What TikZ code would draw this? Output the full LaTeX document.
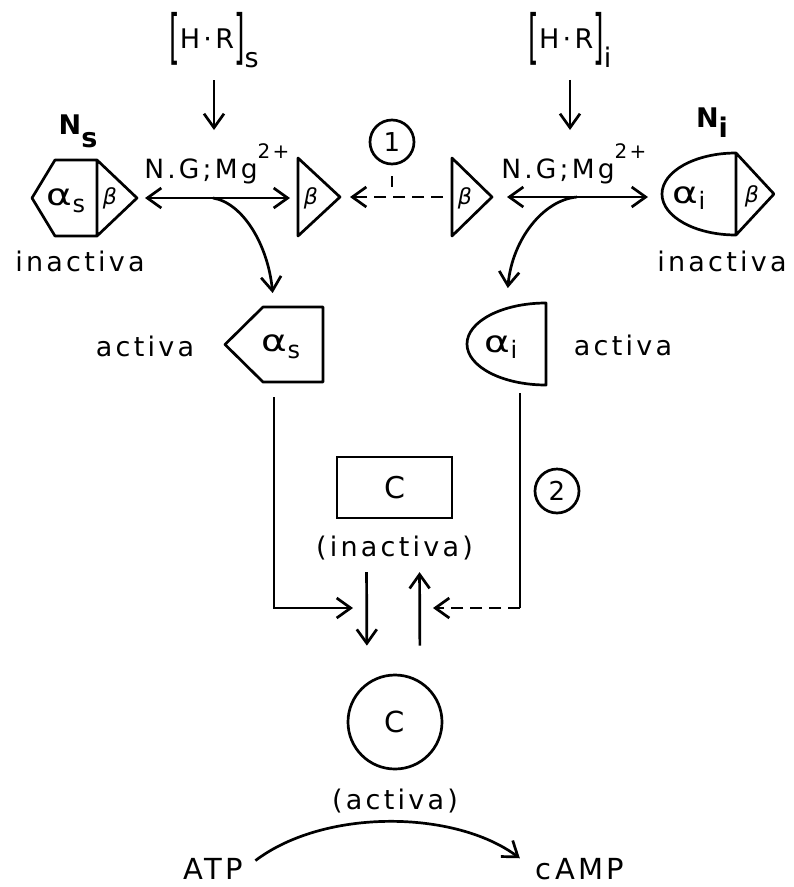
\documentclass[tikz,border=0pt]{standalone}
\usepackage{fontspec}
\newfontfamily\labfont{DejaVu Sans}[LetterSpace=12]
\usetikzlibrary{arrows.meta, positioning}

\newcommand\tallbr[1]{\raisebox{-0.33em}{\scalebox{1}[2.2]{#1}}}
\newcommand\alsub[1]{{\fontsize{30}{30}\selectfont\scalebox{1.3}[1]{α}}\raisebox{-0.25em}{\fontsize{24}{24}\selectfont #1}}

\begin{document}
\begin{tikzpicture}[
  x=1pt, y=-1pt,
  line width=2.7pt,
  lab/.style={font=\labfont\fontsize{27}{30}\selectfont, inner sep=0pt},
  ng/.style={font=\labfont\fontsize{26.5}{28}\selectfont, inner sep=0pt, anchor=base west},
  hold/.style={inner sep=0pt, outer sep=0pt},
  shp/.style={line join=round},
  gk/.style={font=\labfont\itshape\fontsize{22}{24}\selectfont, inner sep=0pt},
  numc/.style={circle, draw, minimum size=44pt, inner sep=0pt, font=\labfont\fontsize{26}{28}\selectfont},
  arr/.style={-{Straight Barb[length=14pt, width=20pt]}},
  darr/.style={{Straight Barb[length=14pt, width=20pt]}-{Straight Barb[length=14pt, width=20pt]}},
  dsh/.style={dash pattern=on 12pt off 7pt}
]
\useasboundingbox (0,0) rectangle (794,887);

\node[lab] (hrs) at (214,40) {\tallbr{[}H·R\tallbr{]}\raisebox{-0.7em}{s}};
\node[lab] (hri) at (570,40) {\tallbr{[}H·R\tallbr{]}\raisebox{-0.7em}{i}};
\coordinate (gs) at (214,130);
\coordinate (gi) at (570,130);

\node[ng] (ngs) at (143,178) {N.G;Mg\raisebox{20pt}{\fontsize{20}{22}\selectfont 2+}};
\node[ng] (ngi) at (500,178) {N.G;Mg\raisebox{20pt}{\fontsize{20}{22}\selectfont 2+}};

\node[lab, font=\labfont\bfseries\fontsize{27}{30}\selectfont] (nsl) at (78,131) {N\raisebox{-0.48em}{s}};
\node[lab, font=\labfont\bfseries\fontsize{27}{30}\selectfont] (nil) at (712,123) {N\raisebox{-0.37em}{i}};

\node[hold, minimum width=105pt, minimum height=76pt] (ns) at (84.5,198) {};
\draw[shp] (ns.west) -- ([xshift=23pt]ns.north west) -- ([xshift=65pt]ns.north west) -- (ns.east)
  -- ([xshift=65pt]ns.south west) -- ([xshift=23pt]ns.south west) -- cycle
  ([xshift=65pt]ns.north west) -- ([xshift=65pt]ns.south west);
\node[lab] (nsa) at (66,201) {\alsub{s}};
\node[gk] (nsb) at (110,198) {β};
\node[lab] (nsx) at (80,261) {inactiva};

\node[hold, minimum width=42pt, minimum height=78pt] (bs) at (319,197) {};
\draw[shp] (bs.north west) -- (bs.east) -- (bs.south west) -- cycle;
\node[gk] (bst) at (311,198) {β};

\node[hold, minimum width=40pt, minimum height=78pt] (bi) at (472,197) {};
\draw[shp] (bi.north west) -- (bi.east) -- (bi.south west) -- cycle;
\node[gk] (bit) at (465,198) {β};

\node[numc] (c1) at (392,142) {1};

\node[hold, minimum width=112pt, minimum height=82pt] (ni) at (718,194) {};
\draw[shp] ([xshift=-38pt]ni.north east) arc[start angle=90, end angle=270, x radius=74pt, y radius=41pt]
  -- (ni.east) -- cycle
  ([xshift=-38pt]ni.north east) -- ([xshift=-38pt]ni.south east);
\node[lab] (nia) at (689,198) {\alsub{i}};
\node[gk] (nib) at (752,196) {β};
\node[lab] (nix) at (722,261) {inactiva};

\node[hold, minimum width=98pt, minimum height=75pt] (as) at (274,344.5) {};
\draw[shp] (as.west) -- ([xshift=38pt]as.north west) -- (as.north east) -- (as.south east)
  -- ([xshift=38pt]as.south west) -- cycle;
\node[lab] (ast) at (281,347) {\alsub{s}};
\node[lab] (asl) at (145,346) {activa};

\node[hold, minimum width=79pt, minimum height=82pt] (ai) at (506.5,344) {};
\draw[shp] (ai.north east) arc[start angle=90, end angle=270, x radius=79pt, y radius=41pt] -- cycle;
\node[lab] (ait) at (501,347) {\alsub{i}};
\node[lab] (ail) at (623,345) {activa};

\node[draw, lab, minimum width=115pt, minimum height=61pt, font=\labfont\fontsize{30}{32}\selectfont] (ci) at (394.5,487.5) {C};
\node[lab, below=15pt of ci] (cil) {(inactiva)};
\node[numc] (c2) at (557,491) {2};

\node[draw, circle, lab, minimum size=94pt, font=\labfont\fontsize{29}{31}\selectfont] (ca) at (395,722) {C};
\node[lab, below=17pt of ca] (cal) {(activa)};

\node[lab, font=\labfont\fontsize{29}{32}\selectfont] (atp) at (213,869) {ATP};
\node[lab, font=\labfont\fontsize{29}{32}\selectfont] (camp) at (580,869) {cAMP};

\coordinate (ms) at (213,198);
\coordinate (mi) at (577,197);
\coordinate (jl) at (353,608);
\coordinate (kr) at (520,608);
\coordinate (jr) at (433,608);

\draw[arr, shorten <=11pt] (hrs) -- (gs);
\draw[arr, shorten <=11pt] (hri) -- (gi);
\draw[darr, shorten <=8pt, shorten >=8pt] (ns.east) -- (ns.east -| bs.west);
\draw[darr, shorten <=15pt, shorten >=14pt] (bi.east) -- (bi.east -| ni.west);
\draw[arr, dsh, shorten <=9pt, shorten >=10pt] (bi.west) -- (bs.east);
\draw[shorten <=11pt, shorten >=10pt] (c1.south) -- (c1.south |- bs.east);
\draw[arr, shorten >=14pt] (ms) .. controls (243,203) and (268,245) .. (as.north);
\draw[arr, shorten >=15pt] (mi) .. controls (543,200) and (512,240) .. (ai.north);
\draw[arr, shorten <=15pt] (as) |- (jl);
\draw[shorten <=8pt] (ai.south -| kr) -- (kr);
\draw[arr, dsh] (kr) -- (jr);
\draw[arr, shorten <=11pt, shorten >=28pt] ([xshift=-28pt]cil.south) -- ([xshift=-28pt]ca.north);
\draw[arr, shorten <=28pt, shorten >=11pt] ([xshift=25pt]ca.north) -- ([xshift=25pt]cil.south);
\draw[arr, shorten <=14pt, shorten >=18pt] (atp.east) .. controls (325,808) and (455,810) .. (camp.west);
\end{tikzpicture}
\end{document}
